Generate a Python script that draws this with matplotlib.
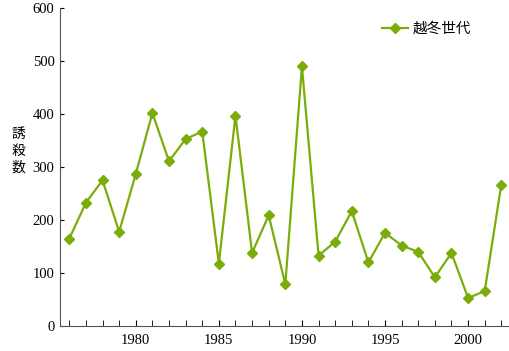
import matplotlib.pyplot as plt
from matplotlib.ticker import MultipleLocator

years = list(range(1976, 2003))
counts = [165, 233, 275, 178, 287, 402, 311, 353, 367, 118,
          397, 138, 209, 79, 490, 133, 159, 217, 120, 176,
          152, 140, 92, 138, 53, 66, 267]
series_name = '越冬世代'
ylabel = '誘\n殺\n数'

plt.rcParams['font.family'] = ['Liberation Serif', 'Noto Sans CJK JP']

fig = plt.figure(figsize=(5.1, 3.51), dpi=100)
ax = fig.add_axes([0.118, 0.071, 0.878, 0.906])

ax.plot(years, counts, color='#7aad0a', lw=1.6, marker='D', ms=5,
        label=series_name)

ax.set_xlim(1975.45, 2002.4)
ax.set_ylim(0, 600)
ax.xaxis.set_major_locator(MultipleLocator(5))
ax.xaxis.set_minor_locator(MultipleLocator(1))
ax.yaxis.set_major_locator(MultipleLocator(100))
ax.tick_params(axis='x', which='both', direction='in', length=4, labelsize=10.5, pad=6)
ax.tick_params(axis='y', direction='in', length=3, labelsize=10.5, pad=4)
for s in ['top', 'right']:
    ax.spines[s].set_visible(False)
for s in ['left', 'bottom']:
    ax.spines[s].set_color('#555555')

fig.text(0.036, 0.57, ylabel, family=['Noto Sans CJK JP'], fontsize=10,
         ha='center', va='center', linespacing=1.25)

leg = ax.legend(loc='upper right', bbox_to_anchor=(0.93, 0.975), frameon=False,
                borderaxespad=0,
                prop={'family': ['Noto Sans CJK JP'], 'size': 10.5},
                handlelength=1.8, handletextpad=0.3)

fig.savefig('out.png', dpi=100)
